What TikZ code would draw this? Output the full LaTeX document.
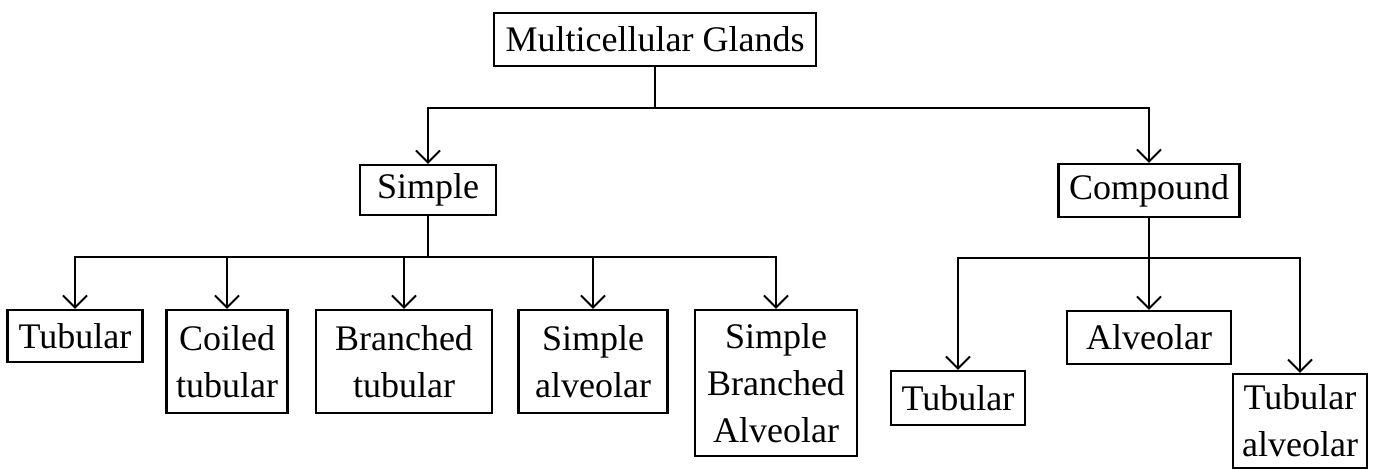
\documentclass[tikz,border=0pt]{standalone}
\usepackage{fontspec}
\setmainfont{Liberation Serif}
\usetikzlibrary{arrows.meta}
\begin{document}
\begin{tikzpicture}[x=1pt,y=-1pt,
  box/.style={draw,line width=2.2pt,rectangle,inner sep=0pt,align=center,
    font=\fontsize{36}{47}\selectfont},
  arr/.style={line width=2pt,-{Straight Barb[length=12pt,width=24pt,line width=2pt]}},
  ln/.style={line width=2pt}]
\useasboundingbox[fill=white] (0,0) rectangle (1376,470);
% nodes
\node[box,minimum width=322pt,minimum height=53pt] (mg) at (655,39.5) {Multicellular Glands};
\node[box,minimum width=136pt,minimum height=50pt] (simple) at (428,190) {Simple};
\node[box,minimum width=181pt,minimum height=53pt] (compound) at (1149,190.5) {Compound};
\node[box,minimum width=135pt,minimum height=52pt] (t1) at (75,336) {Tubular};
\node[box,minimum width=121pt,minimum height=103pt] (ct) at (227,361.5) {Coiled\\tubular};
\node[box,minimum width=176pt,minimum height=103pt] (bt) at (404,361.5) {Branched\\tubular};
\node[box,minimum width=149pt,minimum height=103pt] (sa) at (593,361.5) {Simple\\alveolar};
\node[box,minimum width=162pt,minimum height=146pt] (sba) at (776,383) {Simple\\Branched\\Alveolar};
\node[box,minimum width=134pt,minimum height=54pt] (t2) at (958,398) {Tubular};
\node[box,minimum width=164pt,minimum height=53pt] (alv) at (1149,337.5) {Alveolar};
\node[box,minimum width=134pt,minimum height=94pt] (ta) at (1300,421) {Tubular\\alveolar};
% connectors
\coordinate (j0) at (655,108);
\draw[ln] (mg.south) -- (j0);
\draw[arr] (j0) -| (simple.north);
\draw[arr] (j0) -| (compound.north);
\coordinate (j1) at (428,257);
\draw[ln] (simple.south) -- (j1);
\draw[arr] (j1) -| (t1.north);
\draw[arr] (j1) -| (ct.north);
\draw[arr] (j1) -| (bt.north);
\draw[arr] (j1) -| (sa.north);
\draw[arr] (j1) -| (sba.north);
\coordinate (j2) at (1149,258);
\draw[arr] (compound.south) -- (alv.north);
\draw[arr] (j2) -| (t2.north);
\draw[arr] (j2) -| (ta.north);
\end{tikzpicture}
\end{document}
